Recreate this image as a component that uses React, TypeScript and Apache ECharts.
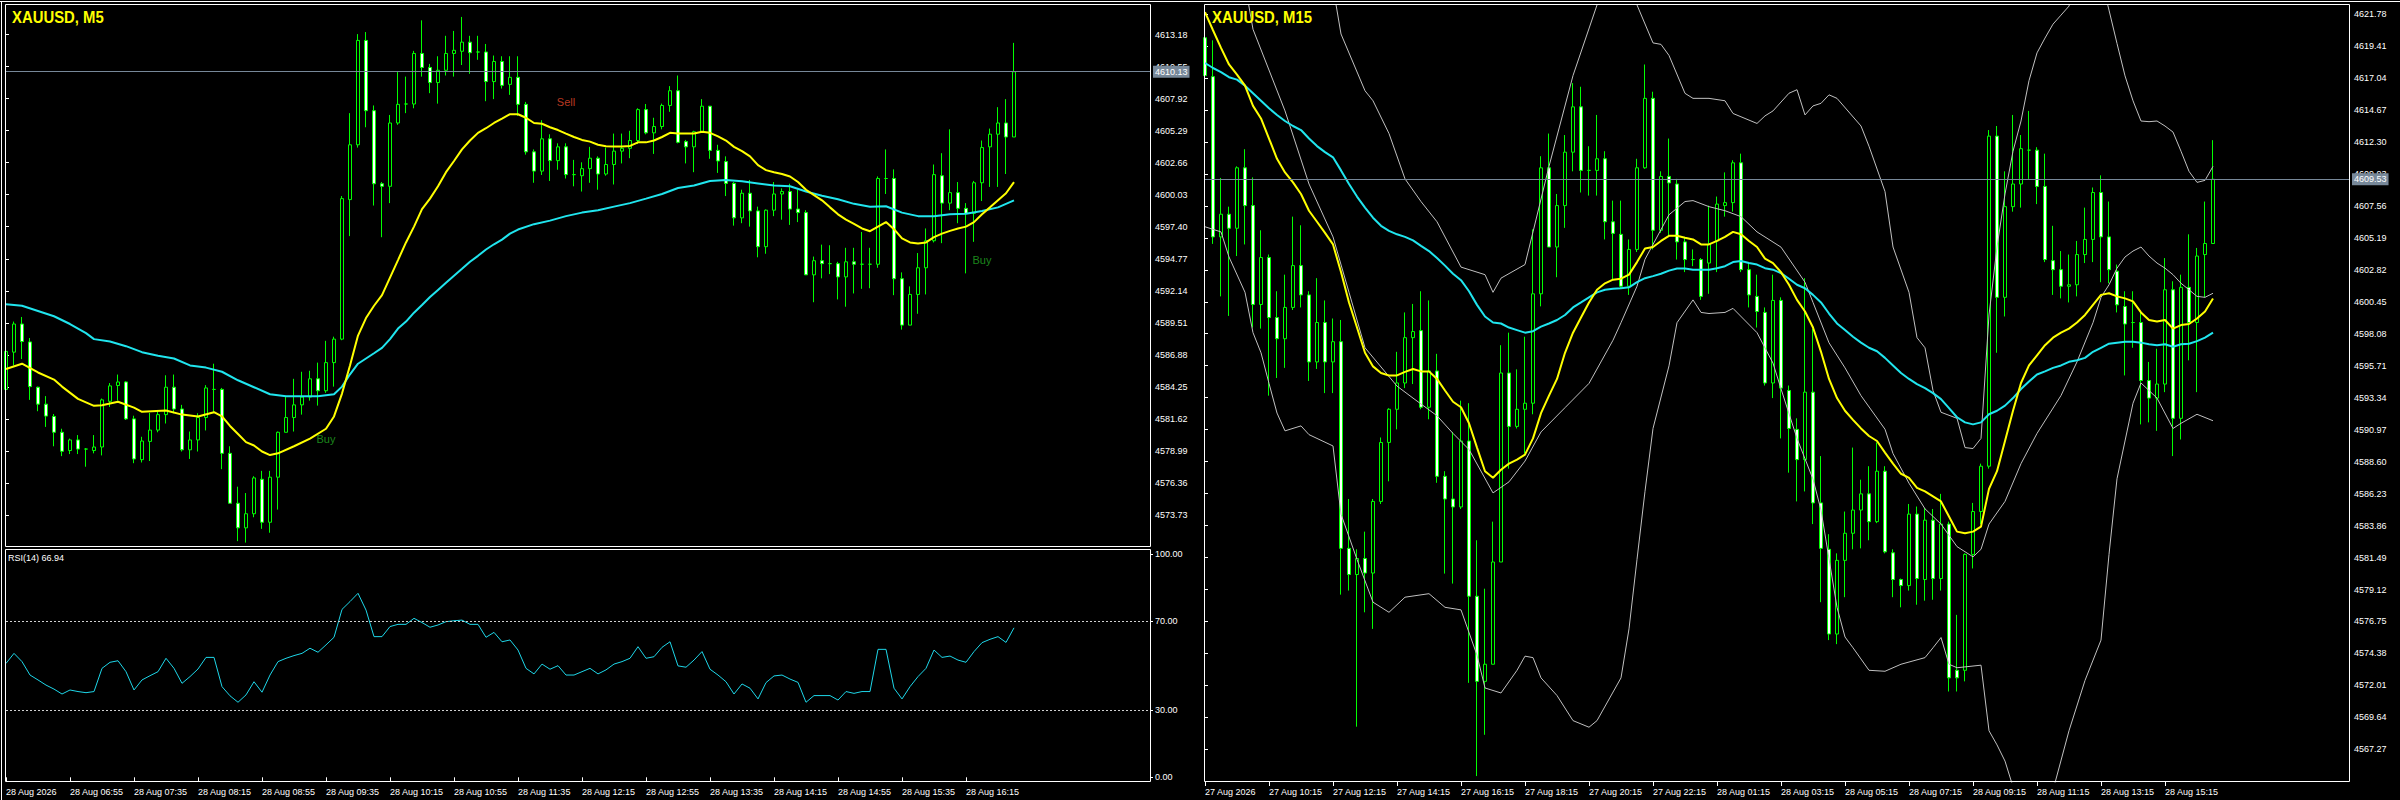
import React, { useEffect, useRef } from "react";
import * as echarts from "echarts";

// ---------- shared ----------
const SLOT_COUNT = 144; // bar slots across each chart window (8 px per bar)
const LABEL_STEP = 8; // a time label every 8 bars

// ---------- XAUUSD M5 (left window) ----------
const m5TimeLabels = [
  "28 Aug 2026", "28 Aug 06:55", "28 Aug 07:35", "28 Aug 08:15", "28 Aug 08:55", "28 Aug 09:35",
  "28 Aug 10:15", "28 Aug 10:55", "28 Aug 11:35", "28 Aug 12:15", "28 Aug 12:55", "28 Aug 13:35",
  "28 Aug 14:15", "28 Aug 14:55", "28 Aug 15:35", "28 Aug 16:15",
];
const m5PriceTicks = [
  4613.18, 4610.55, 4607.92, 4605.29, 4602.66, 4600.03, 4597.4, 4594.77, 4592.14, 4589.51,
  4586.88, 4584.25, 4581.62, 4578.99, 4576.36, 4573.73,
];
const m5PriceMin = 4571.18;
const m5PriceMax = 4615.61;

// [open, high, low, close]
const m5Candles = [
  [4584.04, 4587.2, 4584.0, 4587.16], [4587.1, 4589.61, 4586.01, 4589.41], [4589.41, 4589.99, 4586.53, 4587.97],
  [4587.94, 4588.26, 4583.18, 4584.27], [4584.22, 4584.27, 4582.25, 4582.83], [4582.83, 4583.49, 4580.96, 4581.85],
  [4581.82, 4582.02, 4579.37, 4580.52], [4580.52, 4580.81, 4578.56, 4578.96], [4579.02, 4580.0, 4578.73, 4579.89],
  [4579.89, 4580.29, 4578.73, 4579.14], [4579.14, 4579.22, 4577.69, 4579.14], [4579.02, 4580.29, 4578.79, 4579.31],
  [4579.31, 4583.29, 4578.62, 4583.18], [4583.06, 4584.56, 4582.6, 4584.33], [4584.36, 4585.26, 4583.12, 4584.65],
  [4584.65, 4584.71, 4581.53, 4581.62], [4581.62, 4581.88, 4577.98, 4578.33], [4578.27, 4580.15, 4578.04, 4579.8],
  [4579.77, 4582.11, 4578.16, 4580.7], [4580.7, 4582.25, 4580.52, 4581.97], [4581.97, 4585.2, 4581.24, 4584.22],
  [4584.22, 4585.26, 4582.08, 4582.43], [4582.43, 4582.77, 4578.94, 4579.08], [4579.08, 4580.58, 4578.33, 4579.89],
  [4579.89, 4582.08, 4578.94, 4581.73], [4581.73, 4584.39, 4580.67, 4584.16], [4584.04, 4586.15, 4582.2, 4584.04],
  [4584.04, 4584.16, 4577.49, 4578.79], [4578.79, 4579.37, 4574.69, 4574.69], [4574.69, 4576.05, 4571.58, 4572.67],
  [4572.67, 4575.53, 4571.46, 4573.83], [4573.83, 4576.91, 4573.54, 4576.77], [4576.66, 4577.35, 4572.59, 4573.13],
  [4573.13, 4577.35, 4572.27, 4576.83], [4576.83, 4580.58, 4574.17, 4580.52], [4580.52, 4583.41, 4580.52, 4581.73],
  [4581.73, 4584.91, 4580.58, 4582.77], [4582.77, 4585.49, 4581.97, 4583.41], [4583.41, 4585.57, 4583.12, 4584.91],
  [4584.91, 4586.24, 4582.71, 4583.93], [4583.93, 4588.03, 4583.76, 4586.24], [4586.24, 4588.37, 4584.27, 4588.17],
  [4588.17, 4599.92, 4588.08, 4599.71], [4599.63, 4606.73, 4596.63, 4604.13], [4604.13, 4613.22, 4603.9, 4612.7],
  [4612.7, 4613.39, 4605.57, 4606.93], [4606.93, 4607.36, 4599.14, 4600.93], [4600.93, 4601.07, 4596.54, 4600.72],
  [4600.72, 4606.58, 4599.34, 4605.92], [4605.92, 4610.1, 4605.77, 4607.45], [4607.48, 4609.73, 4606.73, 4607.48],
  [4607.48, 4611.84, 4607.13, 4611.63], [4611.63, 4614.35, 4609.73, 4610.48], [4610.48, 4610.77, 4608.37, 4609.24],
  [4609.24, 4611.4, 4607.51, 4610.25], [4610.25, 4613.08, 4609.82, 4611.63], [4611.63, 4613.48, 4609.73, 4611.89],
  [4611.81, 4614.63, 4610.68, 4612.56], [4612.56, 4613.08, 4609.96, 4611.69], [4611.75, 4613.08, 4611.11, 4611.75],
  [4611.75, 4612.41, 4607.71, 4609.32], [4609.32, 4611.46, 4607.88, 4610.97], [4610.97, 4611.4, 4608.75, 4609.01],
  [4609.09, 4611.4, 4608.23, 4609.67], [4609.67, 4611.4, 4606.5, 4607.45], [4607.45, 4607.65, 4603.32, 4603.55],
  [4603.55, 4603.75, 4601.01, 4601.97], [4601.97, 4606.15, 4601.65, 4604.62], [4604.62, 4604.99, 4601.16, 4602.83],
  [4602.83, 4604.25, 4602.08, 4603.96], [4603.96, 4604.25, 4601.36, 4601.68], [4601.68, 4602.89, 4600.72, 4601.68],
  [4601.59, 4602.69, 4600.29, 4602.17], [4602.17, 4603.96, 4601.01, 4603.03], [4603.03, 4603.18, 4600.44, 4601.73],
  [4601.73, 4603.9, 4601.59, 4602.51], [4602.51, 4605.05, 4600.87, 4603.61], [4603.61, 4605.05, 4602.6, 4603.84],
  [4603.84, 4605.28, 4603.03, 4604.48], [4604.48, 4607.13, 4604.19, 4607.02], [4607.02, 4607.48, 4604.99, 4605.11],
  [4605.11, 4606.35, 4603.38, 4605.63], [4605.63, 4607.51, 4605.4, 4607.36], [4607.36, 4608.95, 4606.84, 4608.57],
  [4608.57, 4609.82, 4604.25, 4604.33], [4604.39, 4604.53, 4602.6, 4603.96], [4603.96, 4605.28, 4601.88, 4605.2],
  [4605.2, 4607.88, 4605.11, 4607.3], [4607.3, 4607.3, 4602.98, 4603.67], [4603.67, 4604.13, 4601.82, 4602.8],
  [4602.75, 4603.18, 4599.92, 4600.96], [4600.96, 4601.07, 4597.49, 4598.13], [4598.13, 4600.44, 4597.69, 4600.15],
  [4600.15, 4601.24, 4597.41, 4598.7], [4598.7, 4599.05, 4594.89, 4595.76], [4595.76, 4598.82, 4595.18, 4598.76],
  [4598.76, 4601.07, 4598.27, 4600.09], [4600.09, 4600.55, 4597.98, 4600.29], [4600.29, 4600.93, 4597.55, 4598.85],
  [4598.85, 4600.44, 4597.78, 4598.56], [4598.56, 4598.76, 4593.45, 4593.45], [4593.45, 4594.95, 4591.2, 4594.61],
  [4594.61, 4595.93, 4593.16, 4594.37], [4594.37, 4595.88, 4593.51, 4594.37], [4594.37, 4594.52, 4591.43, 4593.28],
  [4593.28, 4595.67, 4590.83, 4594.52], [4594.52, 4595.67, 4591.92, 4594.32], [4594.32, 4596.97, 4592.3, 4594.32],
  [4594.32, 4595.67, 4592.35, 4594.32], [4594.32, 4601.53, 4594.03, 4601.36], [4601.36, 4603.75, 4600.09, 4601.36],
  [4601.36, 4602.11, 4591.78, 4593.13], [4593.13, 4593.65, 4588.95, 4589.32], [4589.32, 4592.5, 4589.32, 4591.84],
  [4591.84, 4595.24, 4590.25, 4594.03], [4594.03, 4597.26, 4591.84, 4596.25], [4596.25, 4602.51, 4596.11, 4601.68],
  [4601.59, 4603.44, 4596.05, 4599.34], [4599.34, 4605.4, 4598.76, 4600.2], [4600.2, 4601.07, 4597.69, 4598.91],
  [4598.91, 4599.34, 4593.57, 4598.5], [4598.5, 4601.16, 4596.16, 4601.01], [4601.01, 4604.48, 4599.51, 4603.9],
  [4603.96, 4605.46, 4600.67, 4605.0], [4605.0, 4607.22, 4600.67, 4605.92], [4605.92, 4607.88, 4601.73, 4604.77],
  [4604.77, 4612.5, 4604.77, 4610.13],
];

// moving averages: [bar, price]
const m5FastMa = [
  [0, 4585.72], [2, 4586.15], [4, 4585.43], [6, 4584.85], [7, 4584.27], [9, 4583.26], [11, 4582.69], [12, 4582.74],
  [14, 4583.03], [16, 4582.54], [17, 4582.2], [20, 4582.31], [22, 4581.97], [24, 4581.82], [26, 4582.17], [27, 4581.82],
  [28, 4581.04], [29, 4580.38], [30, 4579.71], [31, 4579.43], [32, 4578.94], [33, 4578.65], [34, 4578.79], [36, 4579.37],
  [38, 4580.0], [40, 4580.81], [41, 4581.82], [42, 4583.7], [43, 4586.01], [44, 4588.46], [45, 4589.9], [46, 4590.91],
  [47, 4591.78], [48, 4593.22], [49, 4594.66], [50, 4596.11], [51, 4597.41], [52, 4598.85], [53, 4599.71], [54, 4600.72],
  [55, 4601.88], [56, 4602.8], [57, 4603.75], [58, 4604.48], [59, 4605.11], [60, 4605.49], [61, 4605.92], [62, 4606.27],
  [63, 4606.64], [64, 4606.64], [65, 4606.35], [66, 4605.92], [67, 4605.86], [68, 4605.57], [69, 4605.34], [70, 4605.05],
  [71, 4604.77], [72, 4604.53], [73, 4604.39], [74, 4604.13], [75, 4604.01], [76, 4603.99], [77, 4603.99], [78, 4604.04],
  [79, 4604.33], [80, 4604.33], [81, 4604.48], [82, 4604.77], [83, 4605.11], [84, 4605.05], [86, 4605.05], [87, 4605.2],
  [88, 4605.11], [89, 4604.82], [90, 4604.48], [91, 4603.96], [92, 4603.61], [93, 4603.18], [94, 4602.46], [95, 4602.05],
  [96, 4601.88], [97, 4601.73], [98, 4601.53], [99, 4601.07], [100, 4600.44], [101, 4600.0], [102, 4599.57], [103, 4598.99],
  [104, 4598.42], [105, 4597.98], [106, 4597.64], [107, 4597.26], [108, 4597.03], [109, 4597.41], [110, 4597.78],
  [111, 4597.2], [112, 4596.45], [113, 4596.11], [114, 4596.02], [115, 4596.11], [116, 4596.54], [117, 4596.83],
  [118, 4597.06], [119, 4597.26], [120, 4597.41], [121, 4597.78], [122, 4598.42], [123, 4598.99], [124, 4599.57],
  [125, 4600.15], [126, 4601.07],
];
const m5SlowMa = [
  [0, 4591.03], [2, 4590.91], [4, 4590.48], [6, 4590.05], [8, 4589.41], [10, 4588.66], [11, 4588.17], [13, 4587.97],
  [15, 4587.59], [17, 4587.1], [19, 4586.81], [21, 4586.58], [23, 4586.01], [25, 4585.83], [27, 4585.49], [29, 4584.79],
  [31, 4584.22], [33, 4583.64], [35, 4583.47], [37, 4583.47], [39, 4583.47], [41, 4583.64], [42, 4584.27], [43, 4585.28],
  [44, 4586.15], [45, 4586.58], [46, 4587.01], [47, 4587.45], [48, 4588.17], [49, 4589.04], [50, 4589.61], [51, 4590.34],
  [52, 4590.97], [53, 4591.63], [54, 4592.21], [55, 4592.79], [56, 4593.37], [57, 4593.94], [58, 4594.52], [59, 4595.01],
  [60, 4595.53], [61, 4595.96], [62, 4596.34], [63, 4596.83], [64, 4597.17], [66, 4597.61], [68, 4597.9], [70, 4598.27],
  [72, 4598.56], [74, 4598.76], [76, 4599.05], [78, 4599.34], [80, 4599.71], [82, 4600.09], [84, 4600.58], [86, 4600.78],
  [88, 4601.16], [90, 4601.24], [92, 4601.13], [94, 4600.96], [96, 4600.78], [98, 4600.72], [100, 4600.29], [102, 4599.95],
  [104, 4599.66], [106, 4599.28], [108, 4599.05], [110, 4599.08], [112, 4598.56], [114, 4598.27], [116, 4598.27],
  [118, 4598.42], [120, 4598.47], [122, 4598.7], [124, 4598.99], [126, 4599.57],
];

const m5Rsi = [
  51.0, 55.5, 51.8, 45.8, 43.6, 41.3, 39.5, 37.3, 39.1, 38.4, 37.9, 38.4, 48.8, 51.5, 52.2, 47.3, 39.1, 43.6, 45.5, 47.3,
  53.3, 48.8, 42.1, 45.1, 48.5, 53.7, 53.7, 40.6, 36.5, 33.6, 36.9, 42.8, 38.1, 45.8, 51.8, 53.3, 54.5, 55.5, 57.8, 56.0,
  59.3, 62.7, 75.2, 78.7, 82.4, 74.9, 63.0, 63.0, 67.5, 68.5, 68.5, 71.2, 69.3, 67.2, 68.2, 69.7, 70.1, 70.4, 68.5, 68.5,
  62.7, 64.9, 60.7, 61.5, 57.0, 48.8, 46.3, 50.7, 48.4, 50.0, 45.8, 45.8, 47.3, 48.8, 46.3, 48.1, 50.7, 51.8, 53.3, 58.5,
  53.3, 54.0, 58.2, 60.7, 49.9, 49.3, 52.5, 56.3, 48.4, 45.8, 42.8, 37.3, 41.8, 39.9, 35.1, 42.4, 45.4, 45.8, 44.0, 42.5,
  33.6, 36.6, 36.6, 36.6, 34.6, 38.4, 37.6, 38.4, 38.4, 57.3, 57.3, 39.9, 35.1, 40.6, 45.1, 48.8, 57.0, 53.7, 54.3, 52.5,
  51.5, 56.3, 60.3, 61.8, 63.0, 60.4, 66.94,
];
const rsiTicks = [100, 70, 30, 0];
const rsiLevels = [70, 30];

const m5Signals = [
  { text: "Buy", bar: 40, price: 4579.98, color: "#22aa22" },
  { text: "Sell", bar: 70, price: 4607.65, color: "#e5482b" },
  { text: "Buy", bar: 122, price: 4594.67, color: "#22aa22" },
];

// ---------- XAUUSD M15 (right window) ----------
const m15TimeLabels = [
  "27 Aug 2026", "27 Aug 10:15", "27 Aug 12:15", "27 Aug 14:15", "27 Aug 16:15", "27 Aug 18:15",
  "27 Aug 20:15", "27 Aug 22:15", "28 Aug 01:15", "28 Aug 03:15", "28 Aug 05:15", "28 Aug 07:15",
  "28 Aug 09:15", "28 Aug 11:15", "28 Aug 13:15", "28 Aug 15:15",
];
const m15PriceTicks = [
  4621.78, 4619.41, 4617.04, 4614.67, 4612.3, 4609.93, 4607.56, 4605.19, 4602.82, 4600.45, 4598.08, 4595.71,
  4593.34, 4590.97, 4588.6, 4586.23, 4583.86, 4581.49, 4579.12, 4576.75, 4574.38, 4572.01, 4569.64, 4567.27,
];
const m15PriceMin = 4564.85;
const m15PriceMax = 4622.45;

// [open, high, low, close]
const m15Candles = [
  [4620.02, 4620.2, 4617.0, 4617.22], [4617.14, 4619.83, 4604.74, 4605.26], [4605.26, 4609.63, 4600.85, 4606.94],
  [4606.94, 4607.5, 4599.4, 4605.9], [4605.9, 4610.49, 4603.84, 4610.38], [4610.38, 4611.76, 4604.7, 4607.58],
  [4607.58, 4609.67, 4598.54, 4600.25], [4600.25, 4605.75, 4598.46, 4603.73], [4603.73, 4603.95, 4593.49, 4599.28],
  [4599.28, 4601.23, 4594.8, 4597.71], [4597.71, 4602.46, 4595.55, 4600.03], [4600.03, 4606.76, 4599.84, 4603.13],
  [4603.13, 4606.12, 4600.03, 4600.96], [4600.96, 4601.23, 4594.58, 4595.99], [4595.99, 4602.2, 4595.47, 4598.91],
  [4598.91, 4600.55, 4593.68, 4595.99], [4595.99, 4599.21, 4593.68, 4597.49], [4597.49, 4599.1, 4578.74, 4582.17],
  [4582.17, 4585.83, 4579.04, 4580.23], [4580.23, 4582.1, 4568.95, 4581.42], [4581.42, 4583.41, 4577.43, 4580.34],
  [4580.34, 4585.83, 4576.2, 4585.65], [4585.65, 4590.39, 4585.46, 4590.02], [4590.02, 4592.56, 4587.14, 4592.48],
  [4592.48, 4596.74, 4590.99, 4594.43], [4594.43, 4599.66, 4594.05, 4597.79], [4597.79, 4600.29, 4594.35, 4598.24],
  [4598.31, 4601.23, 4592.48, 4592.63], [4592.63, 4600.55, 4591.74, 4595.32], [4595.32, 4596.59, 4587.03, 4587.51],
  [4587.51, 4587.89, 4580.3, 4585.83], [4585.83, 4590.8, 4579.56, 4585.24], [4585.24, 4593.12, 4585.09, 4590.13],
  [4590.13, 4592.93, 4572.2, 4578.62], [4578.62, 4582.77, 4565.29, 4572.31], [4572.31, 4579.18, 4568.35, 4573.58],
  [4573.58, 4584.15, 4573.58, 4581.16], [4581.16, 4597.23, 4581.16, 4595.17], [4595.17, 4598.16, 4588.08, 4591.21],
  [4591.21, 4595.44, 4591.06, 4592.48], [4592.48, 4597.86, 4589.2, 4592.93], [4592.93, 4605.82, 4592.11, 4601.04],
  [4601.04, 4611.24, 4600.11, 4610.38], [4610.38, 4612.92, 4604.51, 4604.51], [4604.51, 4608.44, 4602.27, 4607.58],
  [4607.58, 4612.81, 4605.93, 4611.54], [4611.54, 4616.66, 4610.12, 4614.9], [4614.9, 4616.39, 4608.55, 4610.19],
  [4610.19, 4611.98, 4608.32, 4610.19], [4610.19, 4614.3, 4608.32, 4611.05], [4611.05, 4611.61, 4605.07, 4606.38],
  [4606.38, 4607.95, 4602.09, 4605.52], [4605.45, 4607.95, 4601.45, 4601.6], [4601.6, 4605.07, 4600.96, 4604.33],
  [4604.33, 4611.05, 4604.14, 4610.38], [4610.38, 4618.04, 4610.31, 4615.53], [4615.53, 4616.02, 4604.33, 4605.75],
  [4605.75, 4610.12, 4605.56, 4609.74], [4609.74, 4612.55, 4605.26, 4609.26], [4609.18, 4609.56, 4603.58, 4604.89],
  [4604.89, 4605.26, 4602.65, 4603.58], [4603.58, 4604.33, 4603.09, 4603.58], [4603.58, 4603.69, 4600.59, 4600.85],
  [4603.32, 4607.58, 4601.04, 4604.7], [4604.96, 4608.25, 4602.65, 4607.69], [4607.58, 4610.04, 4606.76, 4607.8],
  [4607.8, 4610.94, 4607.13, 4610.75], [4610.75, 4611.43, 4602.65, 4602.83], [4602.83, 4603.39, 4600.03, 4600.96],
  [4600.85, 4602.46, 4598.54, 4599.73], [4599.66, 4600.03, 4594.24, 4594.43], [4594.43, 4602.46, 4593.31, 4600.55],
  [4600.55, 4600.78, 4590.32, 4594.05], [4593.87, 4594.24, 4587.78, 4591.06], [4590.99, 4591.81, 4585.65, 4588.75],
  [4588.75, 4602.2, 4586.39, 4593.75], [4593.75, 4598.46, 4583.97, 4585.54], [4585.54, 4589.01, 4578.18, 4582.17],
  [4582.1, 4583.22, 4575.37, 4575.82], [4575.82, 4581.8, 4575.07, 4581.28], [4581.28, 4584.9, 4578.55, 4583.29],
  [4583.29, 4589.64, 4582.1, 4585.01], [4585.01, 4587.26, 4582.17, 4586.21], [4586.21, 4588.26, 4582.77, 4584.15],
  [4584.15, 4590.02, 4584.04, 4587.89], [4587.89, 4588.26, 4581.8, 4581.91], [4581.84, 4582.1, 4578.55, 4579.86],
  [4579.86, 4579.93, 4577.8, 4579.41], [4579.41, 4585.46, 4579.04, 4584.71], [4584.71, 4585.27, 4577.99, 4579.93],
  [4579.86, 4585.16, 4578.29, 4584.26], [4584.26, 4585.09, 4578.36, 4579.93], [4579.93, 4586.21, 4579.04, 4583.97],
  [4583.97, 4584.15, 4571.56, 4572.57], [4573.13, 4577.24, 4571.56, 4572.57], [4573.13, 4581.8, 4572.31, 4581.72],
  [4581.72, 4585.54, 4580.68, 4584.9], [4584.9, 4588.45, 4583.97, 4588.26], [4588.26, 4613.18, 4588.08, 4612.73],
  [4612.73, 4613.48, 4596.67, 4600.78], [4600.78, 4610.12, 4599.36, 4607.5], [4607.5, 4614.3, 4607.13, 4609.18],
  [4609.18, 4612.81, 4607.43, 4611.8], [4611.69, 4614.6, 4609.56, 4611.69], [4611.69, 4611.91, 4607.69, 4609.0],
  [4609.0, 4611.43, 4603.39, 4603.58], [4603.5, 4606.08, 4600.96, 4602.83], [4602.83, 4604.21, 4600.7, 4601.6],
  [4601.6, 4603.95, 4600.4, 4601.71], [4601.71, 4604.96, 4600.85, 4603.95], [4603.95, 4607.43, 4603.32, 4605.07],
  [4605.07, 4608.92, 4603.39, 4608.55], [4608.55, 4609.82, 4601.9, 4605.26], [4605.26, 4607.88, 4601.82, 4602.83],
  [4602.72, 4603.21, 4599.66, 4600.22], [4600.1, 4601.23, 4594.99, 4598.8], [4598.91, 4601.23, 4597.04, 4598.91],
  [4598.91, 4599.66, 4591.36, 4594.61], [4594.61, 4595.99, 4591.51, 4593.31], [4593.31, 4596.97, 4590.88, 4594.35],
  [4594.35, 4603.69, 4593.75, 4601.34], [4601.34, 4601.97, 4589.01, 4591.81], [4591.81, 4602.46, 4590.24, 4601.52],
  [4601.52, 4605.45, 4596.11, 4598.91], [4598.91, 4604.44, 4593.75, 4603.84], [4603.95, 4607.88, 4600.78, 4604.77],
  [4604.77, 4612.43, 4604.77, 4609.53],
];

const m15FastMa = [
  4621.92, 4620.58, 4619.27, 4618.04, 4617.29, 4616.47, 4614.97, 4614.04, 4612.55, 4611.05, 4610.04, 4609.3, 4608.44,
  4607.2, 4606.38, 4605.56, 4604.7, 4602.65, 4600.4, 4598.54, 4596.67, 4595.66, 4595.17, 4594.99, 4594.99, 4595.25,
  4595.47, 4595.29, 4595.29, 4594.73, 4593.87, 4593.04, 4592.63, 4591.44, 4589.64, 4587.89, 4587.4, 4588.0, 4588.45,
  4588.75, 4589.12, 4590.32, 4592.19, 4593.49, 4594.73, 4596.67, 4598.16, 4599.28, 4600.4, 4601.34, 4601.82, 4602.09,
  4602.16, 4602.46, 4603.39, 4604.4, 4604.51, 4604.96, 4605.34, 4605.34, 4605.19, 4605.07, 4604.7, 4604.7, 4604.96,
  4605.26, 4605.63, 4605.45, 4604.96, 4604.51, 4603.65, 4603.32, 4602.65, 4601.71, 4600.59, 4599.73, 4598.54, 4596.74,
  4594.73, 4593.31, 4592.37, 4591.7, 4591.06, 4590.5, 4590.13, 4589.27, 4588.45, 4587.7, 4587.4, 4586.66, 4586.39,
  4586.02, 4585.65, 4584.53, 4583.41, 4583.29, 4583.41, 4583.78, 4586.58, 4587.89, 4590.13, 4592.37, 4594.43, 4595.73,
  4596.48, 4597.23, 4597.79, 4598.16, 4598.46, 4598.91, 4599.47, 4600.22, 4600.96, 4601.08, 4600.85, 4600.7, 4600.48,
  4599.66, 4599.1, 4598.98, 4599.1, 4598.46, 4598.72, 4598.8, 4599.21, 4599.73, 4600.7,
];
const m15SlowMa = [
  4618.15, 4617.78, 4617.48, 4617.1, 4616.92, 4616.47, 4615.91, 4615.35, 4614.79, 4614.3, 4613.85, 4613.48, 4613.18,
  4612.55, 4611.99, 4611.54, 4611.16, 4610.19, 4609.18, 4608.25, 4607.43, 4606.68, 4606.08, 4605.71, 4605.45, 4605.26,
  4605.0, 4604.59, 4604.21, 4603.69, 4603.13, 4602.53, 4602.05, 4601.23, 4600.22, 4599.36, 4598.91, 4598.84, 4598.54,
  4598.35, 4598.16, 4598.27, 4598.61, 4598.84, 4599.1, 4599.47, 4600.03, 4600.4, 4600.78, 4601.15, 4601.34, 4601.41,
  4601.45, 4601.52, 4601.9, 4602.2, 4602.35, 4602.53, 4602.76, 4602.91, 4602.91, 4602.83, 4602.83, 4602.83, 4602.94,
  4603.09, 4603.39, 4603.47, 4603.32, 4603.21, 4602.94, 4602.83, 4602.57, 4602.16, 4601.71, 4601.45, 4600.96, 4600.4,
  4599.58, 4598.84, 4598.35, 4597.86, 4597.42, 4597.04, 4596.78, 4596.29, 4595.73, 4595.17, 4594.73, 4594.35, 4594.05,
  4593.68, 4593.23, 4592.56, 4591.89, 4591.51, 4591.36, 4591.51, 4592.11, 4592.37, 4592.75, 4593.31, 4593.98, 4594.54,
  4595.06, 4595.29, 4595.55, 4595.73, 4596.0, 4596.11, 4596.29, 4596.74, 4597.04, 4597.34, 4597.42, 4597.49, 4597.49,
  4597.42, 4597.3, 4597.23, 4597.3, 4597.12, 4597.3, 4597.34, 4597.53, 4597.79, 4598.16,
];

// Bollinger bands: [bar, price] (points above/below the window leave it)
const m15UpperBand = [
  [15, 4625.0], [16, 4623.8], [17, 4620.3], [20, 4616.09], [21, 4615.35], [23, 4612.92], [25, 4609.56], [27, 4607.88],
  [29, 4606.38], [32, 4603.02], [35, 4602.46], [36, 4601.15], [37, 4602.2], [40, 4603.21], [41, 4605.63], [43, 4610.49],
  [46, 4617.22], [49, 4622.45], [50, 4624.8], [53, 4624.8], [54, 4622.45], [56, 4619.64], [57, 4619.53], [58, 4618.71],
  [60, 4615.9], [61, 4615.53], [63, 4615.53], [65, 4615.35], [66, 4614.41], [69, 4613.67], [70, 4614.23], [71, 4614.6],
  [73, 4615.91], [74, 4616.17], [75, 4614.3], [76, 4614.97], [77, 4615.16], [78, 4615.79], [79, 4615.53], [82, 4613.48],
  [83, 4611.98], [85, 4608.62], [86, 4604.51], [88, 4601.15], [89, 4597.79], [90, 4597.04], [91, 4593.87], [92, 4592.26],
  [94, 4591.81], [95, 4589.64], [96, 4589.57], [97, 4590.32], [98, 4599.47], [99, 4604.51], [100, 4608.44],
  [101, 4611.61], [102, 4613.85], [103, 4616.84], [104, 4618.9], [105, 4620.0], [106, 4621.03], [107, 4621.7],
  [108, 4622.37], [109, 4624.5], [112, 4624.5], [113, 4622.07], [114, 4619.6], [115, 4617.2], [116, 4615.35],
  [117, 4613.85], [118, 4613.8], [119, 4613.85], [120, 4613.48], [121, 4613.03], [122, 4611.61], [123, 4610.12],
  [124, 4609.3], [125, 4609.45], [126, 4610.49],
];
const m15MiddleBand = [
  [5, 4624.0], [6, 4620.65], [10, 4614.6], [13, 4609.18], [16, 4605.26], [18, 4601.15], [20, 4597.04], [24, 4594.2],
  [26, 4593.31], [29, 4592.0], [31, 4590.69], [33, 4589.5], [36, 4586.28], [38, 4587.1], [40, 4588.64], [42, 4590.8],
  [45, 4592.6], [48, 4594.4], [51, 4597.6], [52, 4598.9], [54, 4601.6], [55, 4603.6], [58, 4606.9], [60, 4607.88],
  [61, 4607.95], [63, 4607.5], [65, 4607.2], [67, 4606.76], [69, 4605.63], [72, 4604.5], [75, 4601.9], [76, 4600.4],
  [78, 4597.41], [80, 4595.55], [82, 4593.49], [85, 4591.0], [86, 4589.2], [88, 4587.0], [90, 4585.1], [92, 4583.97],
  [94, 4582.3], [96, 4581.54], [97, 4582.1], [98, 4583.97], [100, 4585.65], [102, 4588.45], [104, 4590.69], [107, 4593.5],
  [109, 4596.0], [111, 4598.9], [112, 4600.78], [113, 4601.71], [114, 4602.94], [115, 4603.77], [116, 4604.21],
  [117, 4604.51], [118, 4603.84], [119, 4603.32], [120, 4602.94], [121, 4602.46], [122, 4601.82], [123, 4601.34],
  [124, 4600.85], [125, 4600.78], [126, 4601.08],
];
const m15LowerBand = [
  [0, 4606.01], [2, 4605.63], [3, 4603.77], [5, 4601.15], [6, 4598.16], [7, 4596.67], [8, 4594.4], [9, 4592.2],
  [10, 4590.88], [12, 4591.25], [13, 4590.6], [16, 4589.76], [17, 4584.71], [19, 4581.35], [21, 4578.18], [23, 4577.43],
  [25, 4578.55], [28, 4578.81], [30, 4577.8], [32, 4577.61], [34, 4574.25], [35, 4571.82], [37, 4571.45], [39, 4573.13],
  [40, 4574.18], [41, 4574.07], [42, 4572.57], [44, 4571.26], [46, 4569.4], [48, 4568.91], [49, 4569.4], [52, 4572.57],
  [53, 4576.2], [54, 4581.35], [55, 4586.4], [56, 4591.06], [58, 4595.7], [59, 4598.9], [61, 4600.59], [62, 4599.66],
  [63, 4599.58], [65, 4599.66], [66, 4599.96], [69, 4598.16], [71, 4595.9], [72, 4594.0], [74, 4590.32], [76, 4587.3],
  [77, 4585.0], [78, 4581.4], [79, 4577.8], [80, 4575.6], [81, 4574.8], [83, 4573.13], [85, 4573.06], [87, 4573.58],
  [90, 4574.07], [91, 4574.8], [92, 4575.56], [93, 4573.58], [94, 4573.32], [97, 4573.51], [98, 4568.65], [99, 4567.6],
  [100, 4566.4], [101, 4564.5], [102, 4562.5], [105, 4562.5], [106, 4564.24], [108, 4568.65], [110, 4572.38],
  [112, 4575.37], [113, 4581.72], [114, 4587.33], [116, 4592.93], [117, 4594.43], [119, 4593.31], [121, 4591.06],
  [122, 4591.44], [124, 4592.11], [126, 4591.63],
];

// ---------- colours ----------
const BULL_FILL = "#000000";
const BEAR_FILL = "#ffffff";
const CANDLE_LINE = "#00ff00";
const FAST_MA = "#ffff00";
const SLOW_MA = "#20e5ee";
const BAND = "#c0c0c0";
const RSI_LINE = "#1ed6e8";
const PRICE_LINE = "#778899";
const FONT = "'Liberation Sans', Arial, sans-serif";

const slots = Array.from({ length: SLOT_COUNT }, (_, i) => String(i));

function timeAxis(gridIndex: number, labels: string[] | null) {
  const isLabel = (i: number) => labels !== null && i % LABEL_STEP === 0 && i / LABEL_STEP < labels.length;
  return {
    type: "category",
    gridIndex,
    data: slots,
    boundaryGap: false,
    axisLine: { show: false },
    splitLine: { show: false },
    axisTick: labels
      ? { show: true, length: 4, interval: (i: number) => isLabel(i), lineStyle: { color: "#ffffff" } }
      : { show: false },
    axisLabel: labels
      ? {
          show: true,
          interval: 0,
          align: "left",
          margin: 5,
          color: "#ffffff",
          fontSize: 9,
          fontFamily: FONT,
          formatter: (_v: string, i: number) => (isLabel(i) ? labels[i / LABEL_STEP] : ""),
        }
      : { show: false },
  };
}

function slotAxis(gridIndex: number) {
  return { type: "value", gridIndex, min: 0, max: SLOT_COUNT - 1, show: false, splitLine: { show: false } };
}

function valueAxis(gridIndex: number, min: number, max: number, ticks: number[]) {
  return {
    type: "value",
    gridIndex,
    position: "right",
    min,
    max,
    axisLine: { show: false },
    splitLine: { show: false },
    axisTick: { show: true, customValues: ticks, length: 3, lineStyle: { color: "#ffffff" } },
    axisLabel: {
      show: true,
      customValues: ticks,
      color: "#ffffff",
      fontSize: 9,
      fontFamily: FONT,
      margin: 5,
      formatter: (v: number) => v.toFixed(2),
    },
  };
}

function candleSeries(xAxisIndex: number, yAxisIndex: number, rows: number[][]) {
  const last = rows[rows.length - 1][3];
  return {
    type: "candlestick",
    xAxisIndex,
    yAxisIndex,
    barWidth: 4,
    clip: true,
    data: rows.map(([o, h, l, c]) => [o, c, l, h]),
    itemStyle: {
      color: BULL_FILL,
      color0: BEAR_FILL,
      borderColor: CANDLE_LINE,
      borderColor0: CANDLE_LINE,
      borderColorDoji: CANDLE_LINE,
      borderWidth: 1,
    },
    markLine: {
      silent: true,
      symbol: ["none", "none"],
      lineStyle: { color: PRICE_LINE, width: 1, type: "solid" },
      label: {
        show: true,
        position: "end",
        distance: 3,
        formatter: last.toFixed(2),
        color: "#ffffff",
        backgroundColor: PRICE_LINE,
        padding: [2, 2, 1, 2],
        fontSize: 9,
        fontFamily: FONT,
      },
      data: [{ yAxis: last }],
    },
    z: 2,
  };
}

function lineSeries(xAxisIndex: number, yAxisIndex: number, data: any[], color: string, width: number) {
  return {
    type: "line",
    xAxisIndex,
    yAxisIndex,
    data,
    showSymbol: false,
    symbol: "none",
    clip: true,
    silent: true,
    lineStyle: { color, width },
    z: 3,
  };
}

function buildOption() {
  const frame = (x: number, y: number, w: number, h: number) => ({
    type: "rect",
    silent: true,
    z: 20,
    shape: { x, y, width: w, height: h },
    style: { fill: "none", stroke: "#ffffff", lineWidth: 1 },
  });
  return {
    animation: false,
    backgroundColor: "#000000",
    textStyle: { fontFamily: FONT },
    grid: [
      { left: 6, top: 5, width: 1144, height: 541 },
      { left: 6, top: 549, width: 1144, height: 233 },
      { left: 1205, top: 5, width: 1144, height: 777 },
    ],
    xAxis: [timeAxis(0, null), slotAxis(0), timeAxis(1, m5TimeLabels), timeAxis(2, m15TimeLabels), slotAxis(2)],
    yAxis: [
      valueAxis(0, m5PriceMin, m5PriceMax, m5PriceTicks),
      { ...valueAxis(1, -2.1, 102.24, rsiTicks) },
      valueAxis(2, m15PriceMin, m15PriceMax, m15PriceTicks),
    ],
    series: [
      candleSeries(0, 0, m5Candles),
      lineSeries(1, 0, m5SlowMa, SLOW_MA, 2),
      lineSeries(1, 0, m5FastMa, FAST_MA, 2),
      {
        type: "scatter",
        xAxisIndex: 1,
        yAxisIndex: 0,
        symbolSize: 1,
        silent: true,
        itemStyle: { color: "rgba(0,0,0,0)" },
        label: { show: true, position: "inside", fontSize: 11, fontFamily: FONT },
        data: m5Signals.map((s) => ({
          value: [s.bar, s.price],
          label: { show: true, formatter: s.text, color: s.color },
        })),
        z: 4,
      },
      {
        ...lineSeries(2, 1, m5Rsi, RSI_LINE, 1),
        markLine: {
          silent: true,
          symbol: ["none", "none"],
          label: { show: false },
          lineStyle: { color: "#d0d0d0", width: 1, type: [2, 2] },
          data: rsiLevels.map((v) => ({ yAxis: v })),
        },
      },
      candleSeries(3, 2, m15Candles),
      lineSeries(4, 2, m15UpperBand, BAND, 1),
      lineSeries(4, 2, m15MiddleBand, BAND, 1),
      lineSeries(4, 2, m15LowerBand, BAND, 1),
      lineSeries(3, 2, m15SlowMa, SLOW_MA, 2),
      lineSeries(3, 2, m15FastMa, FAST_MA, 2),
    ],
    graphic: [
      { type: "line", silent: true, z: 20, shape: { x1: 0, y1: 1.5, x2: 2400, y2: 1.5 }, style: { stroke: "#ffffff", lineWidth: 1 } },
      { type: "line", silent: true, z: 20, shape: { x1: 1.5, y1: 1.5, x2: 1.5, y2: 800 }, style: { stroke: "#ffffff", lineWidth: 1 } },
      frame(5.5, 4.5, 1145, 542),
      frame(5.5, 549.5, 1145, 232),
      frame(1204.5, 4.5, 1145, 777),
      {
        type: "text",
        silent: true,
        z: 21,
        x: 12,
        y: 9,
        scaleX: 0.93,
        style: { text: "XAUUSD, M5", fill: "#ffff00", font: `bold 16px ${FONT}`, textVerticalAlign: "top" },
      },
      {
        type: "text",
        silent: true,
        z: 21,
        x: 1212,
        y: 9,
        scaleX: 0.93,
        style: { text: "XAUUSD, M15", fill: "#ffff00", font: `bold 16px ${FONT}`, textVerticalAlign: "top" },
      },
      {
        type: "text",
        silent: true,
        z: 21,
        x: 8,
        y: 553,
        style: {
          text: `RSI(14) ${m5Rsi[m5Rsi.length - 1].toFixed(2)}`,
          fill: "#ffffff",
          font: `9px ${FONT}`,
          textVerticalAlign: "top",
        },
      },
    ],
  };
}

export default function App() {
  const ref = useRef<HTMLDivElement>(null);
  useEffect(() => {
    if (!ref.current) return;
    const chart = echarts.init(ref.current, null, { renderer: "svg", width: 2400, height: 800 });
    chart.setOption(buildOption() as any);
    return () => chart.dispose();
  }, []);
  return (
    <div
      ref={ref}
      style={{ position: "fixed", left: 0, top: 0, width: 2400, height: 800, background: "#000000" }}
    />
  );
}
